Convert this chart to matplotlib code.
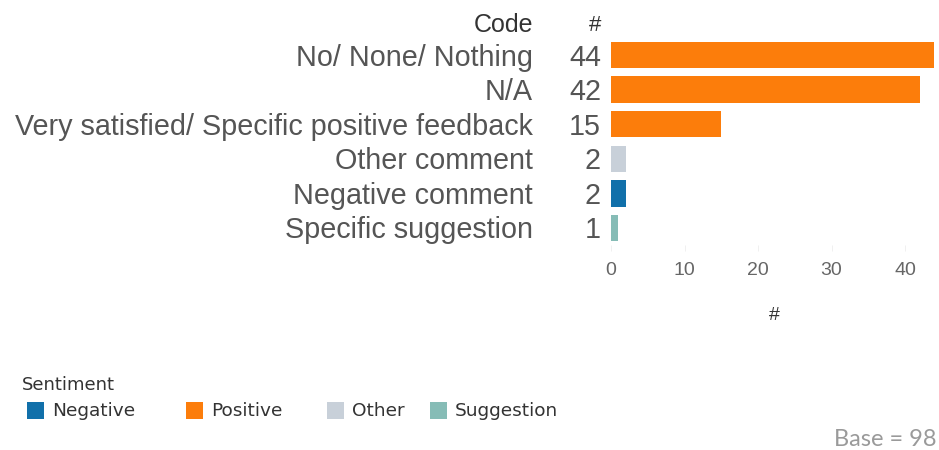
import matplotlib
matplotlib.use("Agg")
import matplotlib.pyplot as plt
from matplotlib.patches import Rectangle
from matplotlib.transforms import blended_transform_factory, offset_copy

# Response codes and their counts
codes = [
    "No/ None/ Nothing",
    "N/A",
    "Very satisfied/ Specific positive feedback",
    "Other comment",
    "Negative comment",
    "Specific suggestion",
]
counts = [44, 42, 15, 2, 2, 1]
sentiment = ["Positive", "Positive", "Positive", "Other", "Negative", "Suggestion"]

legend_order = ["Negative", "Positive", "Other", "Suggestion"]
sentiment_colors = {
    "Negative": "#1170AA",
    "Positive": "#FC7D0B",
    "Other": "#C8D0D9",
    "Suggestion": "#86BCB6",
}
x_ticks = [0, 10, 20, 30, 40]
base_n = 98

W, H = 939, 450
LABEL_GRAY = "#555555"
TICK_GRAY = "#666666"

fig = plt.figure(figsize=(W / 100, H / 100), dpi=100)
ax = fig.add_axes([611 / W, 1 - 245.3 / H, 326 / W, 207.6 / H])

rows = list(range(len(codes)))
ax.barh(rows, counts, height=0.76,
        color=[sentiment_colors[s] for s in sentiment], linewidth=0)
ax.set_xlim(0, 44.35)
ax.set_ylim(len(codes) - 0.5, -0.5)

for side in ax.spines.values():
    side.set_visible(False)
ax.set_yticks([])
ax.set_xticks(x_ticks)
ax.set_xticklabels([str(t) for t in x_ticks], fontsize=14, color=TICK_GRAY,
                   family="Liberation Sans")
ax.tick_params(axis="x", length=4, width=0.6, color="#eeeeee", pad=8)
ax.set_xlabel("#", fontsize=14, color="#333333", family="Liberation Sans",
              labelpad=20)

# Row labels and counts to the left of the bars (nudged down a touch)
tr = offset_copy(blended_transform_factory(fig.transFigure, ax.transData),
                 fig=fig, x=0, y=-2.5, units="dots")
for i, (code, n) in enumerate(zip(codes, counts)):
    ax.text(533 / W, i, code, transform=tr, ha="right", va="center",
            fontsize=20.7, color=LABEL_GRAY, family="Liberation Sans",
            clip_on=False)
    ax.text(601 / W, i, str(n), transform=tr, ha="right", va="center",
            fontsize=20.7, color=LABEL_GRAY, family="Liberation Sans",
            clip_on=False)
ax.text(533 / W, -0.93, "Code", transform=tr, ha="right", va="center",
        fontsize=18, color="#333333", family="Liberation Sans", clip_on=False)
ax.text(601 / W, -0.93, "#", transform=tr, ha="right", va="center",
        fontsize=16, color="#333333", family="Liberation Sans", clip_on=False)

# Sentiment legend
fig.text(22 / W, 1 - 385 / H, "Sentiment", ha="left", va="center",
         fontsize=13, color="#333333", family="DejaVu Sans")
legend_x = [27, 186, 327, 430]
for x, name in zip(legend_x, legend_order):
    fig.patches.append(Rectangle((x / W, 1 - 419 / H), 17 / W, 17 / H,
                                 transform=fig.transFigure,
                                 color=sentiment_colors[name], linewidth=0))
    fig.text((x + 25) / W, 1 - 411 / H, name, ha="left", va="center",
             fontsize=13.3, color="#333333", family="DejaVu Sans")

fig.text(937 / W, 1 - 440 / H, f"Base = {base_n}", ha="right", va="center",
         fontsize=17, color="#9a9a9a", family="Lato")

fig.savefig("out.png", dpi=100, facecolor="white")
